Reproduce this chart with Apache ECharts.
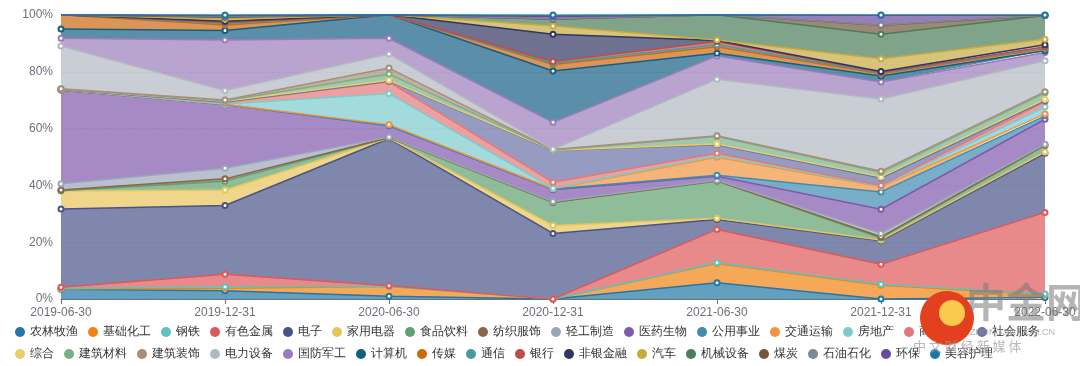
<!DOCTYPE html>
<html>
<head>
<meta charset="utf-8">
<script src="https://cdn.jsdelivr.net/npm/echarts@6/dist/echarts.min.js"></script>
<style>
html,body{margin:0;padding:0;background:#fff;}
#main{width:1080px;height:366px;}
</style>
</head>
<body>
<div id="main"></div>
<script>
const dates = ['2019-06-30','2019-12-31','2020-06-30','2020-12-31','2021-06-30','2021-12-31','2022-06-30'];
const yTicks = [0, 20, 40, 60, 80, 100];

const 农林牧渔 = [3.4, 2.9, 1.0, 0, 5.7, 0, 0.5];
const 基础化工 = [0.1, 0.9, 3.4, 0, 6.8, 4.8, 1.0];
const 钢铁 = [0.2, 0.5, 0.1, 0, 0.3, 0.4, 0.3];
const 有色金属 = [0.4, 4.4, 0.2, 0, 11.7, 7.0, 28.7];
const 电子 = [27.6, 24.2, 51.8, 23.1, 3.5, 8.3, 20.8];
const 家用电器 = [6.3, 5.5, 0.2, 2.8, 0.4, 0.3, 0.5];
const 食品饮料 = [0.1, 3.1, 0.1, 8.1, 13.1, 0.7, 2.2];
const 纺织服饰 = [0.3, 0.8, 0.1, 0.1, 0.1, 0.4, 0.2];
const 轻工制造 = [2.2, 3.7, 0.1, 0.2, 0.2, 1.2, 0.3];
const 医药生物 = [33.0, 22.5, 4.0, 4.2, 1.4, 8.5, 8.8];
const 公用事业 = [0, 0, 0, 0.2, 0.4, 6.1, 1.2];
const 交通运输 = [0.1, 0.1, 0.4, 0.1, 6.3, 1.8, 0.7];
const 房地产 = [0.1, 0.1, 11.0, 0.2, 0.6, 0.2, 2.5];
const 商贸零售 = [0, 0.5, 4.1, 2.1, 0.8, 0.3, 1.8];
const 社会服务 = [0, 0.2, 0.2, 11.2, 3.0, 2.6, 0.3];
const 综合 = [0.1, 0.2, 0.3, 0.1, 0.3, 0.4, 0.5];
const 建筑材料 = [0, 0.2, 2.2, 0.1, 2.6, 1.6, 2.3];
const 建筑装饰 = [0.1, 0.3, 2.1, 0.1, 0.3, 0.4, 0.4];
const 电力设备 = [15.1, 3.3, 5.0, 0.1, 19.9, 25.4, 10.9];
const 国防军工 = [2.7, 17.8, 5.5, 9.5, 8.2, 6.0, 2.9];
const 计算机 = [3.3, 3.3, 8.3, 18.1, 0.9, 2.1, 0.6];
const 传媒 = [5.0, 2.0, 0, 2.3, 2.3, 0.8, 0.8];
const 通信 = [0, 0.5, 0, 0.4, 0.7, 0.3, 0.3];
const 银行 = [0, 0.4, 0, 0.6, 1.2, 0.2, 0.3];
const 非银金融 = [0, 0.4, 0, 9.6, 0.3, 0.3, 0.7];
const 汽车 = [0, 0.8, 0, 2.9, 0.2, 4.5, 2.0];
const 机械设备 = [0, 0.6, 0, 2.4, 8.9, 8.6, 8.3];
const 煤炭 = [0, 0.2, 0, 0.1, 0, 3.2, 0];
const 石油石化 = [0, 0.2, 0, 0.1, 0, 0.1, 0.1];
const 环保 = [0, 0.2, 0, 0.8, 0, 3.4, 0];
const 美容护理 = [0, 0.2, 0, 0.5, 0, 0.1, 0.1];

const seriesNames = ['农林牧渔','基础化工','钢铁','有色金属','电子','家用电器','食品饮料','纺织服饰','轻工制造','医药生物','公用事业','交通运输','房地产','商贸零售','社会服务','综合','建筑材料','建筑装饰','电力设备','国防军工','计算机','传媒','通信','银行','非银金融','汽车','机械设备','煤炭','石油石化','环保','美容护理'];
const seriesValues = [农林牧渔,基础化工,钢铁,有色金属,电子,家用电器,食品饮料,纺织服饰,轻工制造,医药生物,公用事业,交通运输,房地产,商贸零售,社会服务,综合,建筑材料,建筑装饰,电力设备,国防军工,计算机,传媒,通信,银行,非银金融,汽车,机械设备,煤炭,石油石化,环保,美容护理];
const colors = ['#2177a5','#f28313','#5ec2c2','#de5858','#485489','#e8c55a','#5fa16f','#8c6548','#9aa6b8','#8059ac','#408cb1','#f2953e','#7ccbcd','#e47878','#6a72a6','#e8cd6a','#78b088','#a88e78','#b2b8c2','#9b7cba','#155e83','#cc6a10','#4a9a9c','#c04b4b','#303661','#c8aa41','#4a7d58','#74553a','#7c8896','#6a4a9c','#1a78a8'];

const chart = echarts.init(document.getElementById('main'), null, {renderer: 'canvas'});
const series = seriesNames.map((n, i) => ({
  name: n,
  type: 'line',
  stack: 'total',
  data: seriesValues[i],
  symbol: 'emptyCircle',
  symbolSize: 5,
  showSymbol: true,
  lineStyle: {width: 1.5, color: colors[i]},
  itemStyle: {color: colors[i], borderWidth: 1.5},
  areaStyle: {color: colors[i], opacity: 0.7},
  emphasis: {disabled: true}
}));

chart.setOption({
  animation: false,
  color: colors,
  grid: {left: 61, right: 35, top: 15, bottom: 67},
  legend: {
    data: seriesNames,
    left: 10, top: 321,
    icon: 'circle', itemWidth: 10, itemHeight: 10, itemGap: 10,
    textStyle: {fontSize: 12, color: '#333'}
  },
  xAxis: {
    type: 'category', data: dates, boundaryGap: false,
    axisLine: {lineStyle: {color: '#6e7079'}},
    axisTick: {show: true, alignWithLabel: true},
    axisLabel: {color: '#6e7079', fontSize: 12, margin: 8}
  },
  yAxis: {
    type: 'value', min: yTicks[0], max: yTicks[yTicks.length - 1], interval: 20,
    axisLabel: {formatter: '{value}%', color: '#6e7079', fontSize: 12},
    splitLine: {lineStyle: {color: '#e0e6f1', type: 'dashed'}}
  },
  graphic: [
    {type: 'circle', z: 100, shape: {cx: 947, cy: 318, r: 27}, style: {fill: '#e2401e'}},
    {type: 'circle', z: 101, shape: {cx: 952, cy: 313, r: 13}, style: {fill: '#f9c94e'}},
    {type: 'text', z: 100, left: 966, top: 282, style: {text: '中金网', font: 'bold 40px "Noto Sans CJK SC"', fill: 'rgba(120,120,120,0.55)'}},
    {type: 'text', z: 100, left: 970, top: 328, style: {text: 'ZHONGJIN.COM.CN', font: '9px sans-serif', fill: 'rgba(150,150,150,0.7)'}},
    {type: 'text', z: 100, left: 913, top: 340, style: {text: '中 文 财 经 新 媒 体', font: '13px "Noto Sans CJK SC"', fill: 'rgba(160,160,160,0.75)'}}
  ],
  series: series
});
</script>
</body>
</html>
